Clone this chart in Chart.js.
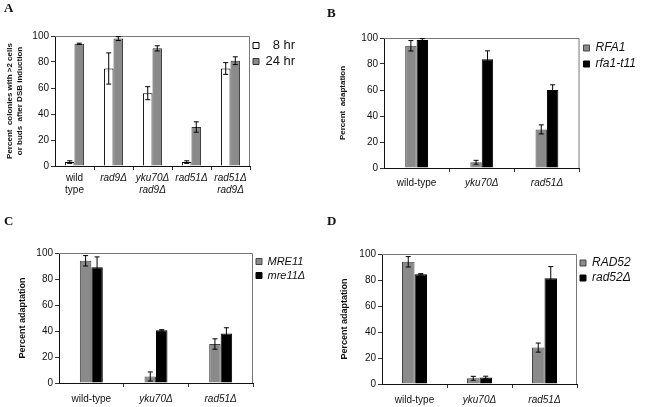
<!DOCTYPE html>
<html>
<head>
<meta charset="utf-8">
<script src="https://cdn.jsdelivr.net/npm/chart.js@4.4.1/dist/chart.umd.min.js"></script>
<style>
  body { margin: 0; width: 646px; height: 407px; background: #fff; position: relative; overflow: hidden; }
  .panel { position: absolute; }
  .letter { position: absolute; font: bold 13px "Liberation Serif", "DejaVu Serif", serif; line-height: 13px; color: #111; }
</style>
</head>
<body>
<div class="panel" style="left:0;top:0;width:323px;height:210px"><canvas id="chartA"></canvas></div>
<div class="panel" style="left:323px;top:0;width:323px;height:210px"><canvas id="chartB"></canvas></div>
<div class="panel" style="left:0;top:210px;width:323px;height:197px"><canvas id="chartC"></canvas></div>
<div class="panel" style="left:323px;top:210px;width:323px;height:197px"><canvas id="chartD"></canvas></div>
<div class="letter" style="left:4px;top:1px">A</div>
<div class="letter" style="left:327px;top:6px">B</div>
<div class="letter" style="left:4px;top:214px">C</div>
<div class="letter" style="left:327px;top:214px">D</div>
<script>
// panel A
const categoriesA = [['wild', 'type'], 'rad9Δ', ['yku70Δ', 'rad9Δ'], 'rad51Δ', ['rad51Δ', 'rad9Δ']];
const hr8 = [3, 75, 56, 3, 75];
const hr8Err = [1, 12, 5, 1, 4.5];
const hr24 = [94, 98, 90.5, 30, 81];
const hr24Err = [0.5, 1.5, 2, 4, 3];

// panels B, C, D
const categories = ['wild-type', 'yku70Δ', 'rad51Δ'];
const rfa1 = [94, 4.4, 29.7];
const rfa1Err = [4, 1.5, 3.5];
const rfa1t11 = [98.5, 83.6, 60];
const rfa1t11Err = [1, 6.5, 4];
const mre11 = [94, 5, 30];
const mre11Err = [4, 3.5, 4];
const mre11d = [89, 40.5, 38];
const mre11dErr = [8, 0.5, 4.5];
const rad52 = [94, 4.4, 28];
const rad52Err = [4, 1.5, 3.5];
const rad52d = [84.4, 5, 81.3];
const rad52dErr = [0.5, 1, 9];

const FONT = '"Liberation Sans", Arial, sans-serif';
const GRAY = '#8a8a8a';

Chart.defaults.font.family = FONT;
Chart.defaults.color = '#111';
Chart.defaults.animation = false;

// error bars drawn from each dataset's errors array
const errorBars = {
  id: 'errorBars',
  afterDatasetsDraw(chart) {
    const ctx = chart.ctx;
    const y = chart.scales.y;
    ctx.save();
    ctx.strokeStyle = '#000';
    ctx.lineWidth = 1;
    chart.data.datasets.forEach((ds, i) => {
      chart.getDatasetMeta(i).data.forEach((bar, j) => {
        const v = ds.data[j], e = ds.errors[j];
        const top = y.getPixelForValue(v + e);
        const bot = y.getPixelForValue(Math.max(0, v - e));
        ctx.beginPath();
        ctx.moveTo(bar.x, top); ctx.lineTo(bar.x, bot);
        ctx.moveTo(bar.x - 2.5, top); ctx.lineTo(bar.x + 2.5, top);
        ctx.moveTo(bar.x - 2.5, bot); ctx.lineTo(bar.x + 2.5, bot);
        ctx.stroke();
      });
    });
    ctx.restore();
  }
};

// top and right sides of the plot frame
const frame = {
  id: 'frame',
  beforeDatasetsDraw(chart) {
    const a = chart.chartArea, ctx = chart.ctx;
    ctx.save();
    ctx.strokeStyle = '#777';
    ctx.lineWidth = 1;
    ctx.beginPath();
    ctx.moveTo(a.left, a.top + 0.5);
    ctx.lineTo(a.right - 0.5, a.top + 0.5);
    ctx.lineTo(a.right - 0.5, a.bottom);
    ctx.stroke();
    ctx.restore();
  }
};

function makePanel(id, p) {
  const n = p.labels.length;
  const chart = new Chart(document.getElementById(id), {
    type: 'bar',
    data: { labels: p.labels, datasets: p.datasets },
    plugins: [frame, errorBars],
    options: {
      responsive: true,
      maintainAspectRatio: false,
      layout: { padding: { top: p.top, right: 0, left: 0, bottom: 0 } },
      datasets: { bar: { categoryPercentage: p.catPct, barPercentage: 1, borderWidth: 1 } },
      scales: {
        x: {
          afterFit: s => { s.height = p.xHeight; },
          grid: {
            drawOnChartArea: false, tickLength: 4,
            tickColor: c => (c.index === 0 || c.index === n) ? 'rgba(0,0,0,0)' : '#333'
          },
          border: { color: '#111' },
          ticks: {
            padding: p.tickPad, maxRotation: 0, autoSkip: false, color: '#111',
            font: c => ({
              size: 10, lineHeight: 1.2,
              style: String(p.labels[c.index]).startsWith('wild') ? 'normal' : 'italic'
            })
          }
        },
        y: {
          min: 0, max: 100,
          afterFit: s => { s.width = p.yWidth; },
          grid: { drawOnChartArea: false, tickLength: 4, tickColor: '#333' },
          border: { color: '#111' },
          ticks: { stepSize: 20, padding: 2, font: { size: 10 }, color: '#111' },
          title: {
            display: true, text: p.title, color: '#111',
            font: { size: p.titleSize, weight: 'bold', lineHeight: 1.25 },
            padding: { top: p.titlePad, bottom: 0 }
          }
        }
      },
      plugins: {
        legend: {
          position: 'right', align: 'start',
          labels: {
            boxWidth: 6, boxHeight: 6, padding: p.legendPad, color: '#111',
            font: { size: p.legendSize, style: p.legendItalic ? 'italic' : 'normal' }
          }
        },
        tooltip: { enabled: false }
      }
    }
  });
  // move the legend so the plot frame ends where it does in the figure
  chart.options.layout.padding.right = Math.max(0, chart.width - p.plotRight - chart.legend.width);
  chart.update();
  return chart;
}

makePanel('chartA', {
  labels: categoriesA,
  datasets: [
    { label: '  8 hr', data: hr8, errors: hr8Err, backgroundColor: '#fff', borderColor: '#000' },
    { label: '24 hr', data: hr24, errors: hr24Err, backgroundColor: GRAY, borderColor: '#333' }
  ],
  top: 36, plotRight: 250, yWidth: 55, xHeight: 44, tickPad: 2, catPct: 0.49,
  title: ['Percent  colonies with >2 cells', 'or buds  after DSB induction'], titleSize: 8, titlePad: 5,
  legendSize: 13, legendPad: 3, legendItalic: false
});

makePanel('chartB', {
  labels: categories,
  datasets: [
    { label: 'RFA1', data: rfa1, errors: rfa1Err, backgroundColor: GRAY, borderColor: '#444' },
    { label: 'rfa1-t11', data: rfa1t11, errors: rfa1t11Err, backgroundColor: '#000', borderColor: '#000' }
  ],
  top: 38, plotRight: 257, yWidth: 61, xHeight: 42, tickPad: 5, catPct: 0.35,
  title: 'Percent  adaptation', titleSize: 8, titlePad: 15,
  legendSize: 12, legendPad: 4, legendItalic: true
});

makePanel('chartC', {
  labels: categories,
  datasets: [
    { label: 'MRE11', data: mre11, errors: mre11Err, backgroundColor: GRAY, borderColor: '#444' },
    { label: 'mre11Δ', data: mre11d, errors: mre11dErr, backgroundColor: '#000', borderColor: '#000' }
  ],
  top: 43, plotRight: 253, yWidth: 59, xHeight: 24, tickPad: 6, catPct: 0.355,
  title: 'Percent adaptation', titleSize: 9, titlePad: 17,
  legendSize: 11, legendPad: 3, legendItalic: true
});

makePanel('chartD', {
  labels: categories,
  datasets: [
    { label: 'RAD52', data: rad52, errors: rad52Err, backgroundColor: GRAY, borderColor: '#444' },
    { label: 'rad52Δ', data: rad52d, errors: rad52dErr, backgroundColor: '#000', borderColor: '#000' }
  ],
  top: 44, plotRight: 254, yWidth: 59, xHeight: 23, tickPad: 6, catPct: 0.385,
  title: 'Percent adaptation', titleSize: 9, titlePad: 16,
  legendSize: 12, legendPad: 3, legendItalic: true
});
</script>
</body>
</html>
